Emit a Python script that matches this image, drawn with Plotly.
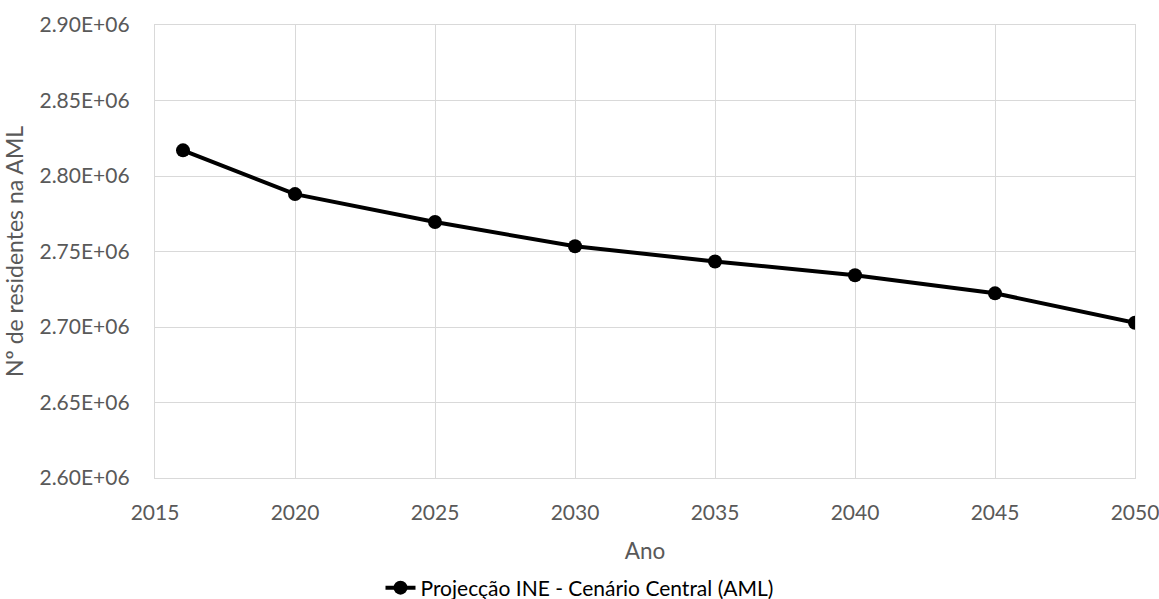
import plotly.graph_objects as go

# Projected residents in the Lisbon Metropolitan Area (AML), INE central scenario
anos = [2016, 2020, 2025, 2030, 2035, 2040, 2045, 2050]
residentes = [2817000, 2788000, 2769500, 2753500, 2743400, 2734300, 2722300, 2702800]

y_ticks = [2600000, 2650000, 2700000, 2750000, 2800000, 2850000, 2900000]
y_tick_labels = ["2.60E+06", "2.65E+06", "2.70E+06", "2.75E+06", "2.80E+06", "2.85E+06", "2.90E+06"]
x_ticks = [2015, 2020, 2025, 2030, 2035, 2040, 2045, 2050]

FONT = "Lato, Carlito, Calibri, sans-serif"
GRID = "#d9d9d9"
LABEL = "#595959"

fig = go.Figure()
fig.add_trace(go.Scatter(
    x=anos, y=residentes,
    mode="lines+markers",
    name="Projecção INE - Cenário Central (AML)",
    line=dict(color="black", width=4),
    marker=dict(color="black", size=14),
))

fig.update_layout(
    width=1159, height=599,
    margin=dict(l=155, r=24, t=25, b=121),
    paper_bgcolor="white", plot_bgcolor="white",
    font=dict(family=FONT, size=21, color=LABEL),
    showlegend=True,
    legend=dict(
        orientation="h",
        xref="container", yref="container",
        x=0.5, xanchor="center",
        y=1 - 588 / 599, yanchor="middle",
        font=dict(family=FONT, size=21, color="black"),
    ),
    xaxis=dict(
        range=[2015, 2050],
        tickvals=x_ticks,
        ticks="", ticklabelstandoff=16,
        ticklabeloverflow="allow",
        automargin=False,
        showgrid=True, gridcolor=GRID, gridwidth=1.3,
        showline=True, linecolor=GRID, linewidth=1.3, mirror=True,
        zeroline=False,
        title=dict(text="Ano", font=dict(size=22.5, color=LABEL), standoff=19),
        tickfont=dict(size=21, color=LABEL),
    ),
    yaxis=dict(
        range=[2600000, 2900000],
        tickvals=y_ticks, ticktext=y_tick_labels,
        ticks="", ticklabelstandoff=20,
        automargin=False,
        showgrid=True, gridcolor=GRID, gridwidth=1.3,
        showline=True, linecolor=GRID, linewidth=1.3, mirror=True,
        zeroline=False,
        title=dict(text="Nº de residentes na AML", font=dict(size=23, color=LABEL), standoff=10),
        tickfont=dict(size=21, color=LABEL),
    ),
)

fig.write_html("out.html")
